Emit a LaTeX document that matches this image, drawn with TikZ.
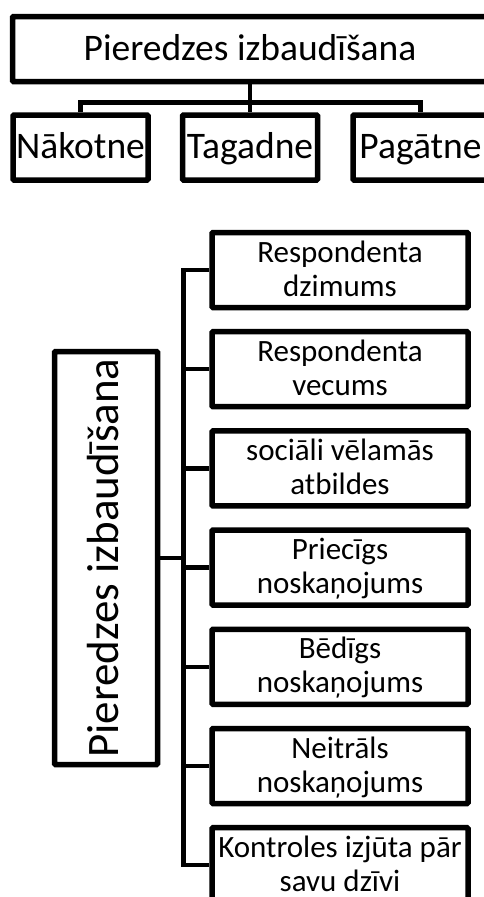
\documentclass[tikz,border=0pt]{standalone}
\usepackage{fontspec}
\setmainfont{Carlito}
\usetikzlibrary{positioning}

\begin{document}
\begin{tikzpicture}[
        box/.style={draw, line width=5.5pt, rounded corners=1pt, inner sep=0pt, align=center},
        link/.style={line width=4.5pt},
        big/.style={font=\fontsize{37.5}{46}\selectfont, text height=30pt, text depth=8pt},
        small/.style={font=\fontsize{31}{34}\selectfont, text height=55pt, text depth=3pt, minimum width=256pt, minimum height=75pt},
        node distance=18.7pt]
        \useasboundingbox (0,0) rectangle (484pt,-897pt);
%
        \node[box, big, minimum width=475pt, minimum height=65pt] (main) at (250pt,-49pt) {Pieredzes izbaudīšana};
        \node[box, big, minimum width=135pt, minimum height=65pt, below=28pt of main] (tag) {Tagadne};
        \node[box, big, minimum width=135pt, minimum height=65pt, left=29pt of tag] (nak) {Nākotne};
        \node[box, big, minimum width=135pt, minimum height=65pt, right=30pt of tag] (pag) {Pagātne};
%
        \draw[link] (main.south) -- ++(0,-18pt) coordinate (fork);
        \draw[link] (nak.north) |- (fork) -| (pag.north);
        \draw[link] (fork) -- (tag.north);
%
        \node[box, rotate=90, minimum width=413pt, minimum height=103pt, font=\fontsize{45}{54}\selectfont, text height=33pt, text depth=9pt] (side) at (106pt,-558pt) {Pieredzes izbaudīšana};
        \node[box, small] (dzim) at (340pt,-270pt) {Respondenta\\dzimums};
        \node[box, small, below=of dzim] (vec) {Respondenta\\vecums};
        \node[box, small, below=of vec] (soc) {sociāli vēlamās\\atbildes};
        \node[box, small, below=of soc] (prie) {Priecīgs\\noskaņojums};
        \node[box, small, below=of prie] (bed) {Bēdīgs\\noskaņojums};
        \node[box, small, below=of bed] (neit) {Neitrāls\\noskaņojums};
        \node[box, small, below=of neit] (kontr) {Kontroles izjūta pār\\savu dzīvi};
%
        \draw[link] (dzim.west) -- ++(-26pt,0) coordinate (spine) -- (spine |- kontr.west) -- (kontr.west);
        \draw[link] (side.south) -- (side.south -| spine);
        \draw[link] (vec.west) -- (vec.west -| spine);
        \draw[link] (soc.west) -- (soc.west -| spine);
        \draw[link] (prie.west) -- (prie.west -| spine);
        \draw[link] (bed.west) -- (bed.west -| spine);
        \draw[link] (neit.west) -- (neit.west -| spine);
\end{tikzpicture}
\end{document}
